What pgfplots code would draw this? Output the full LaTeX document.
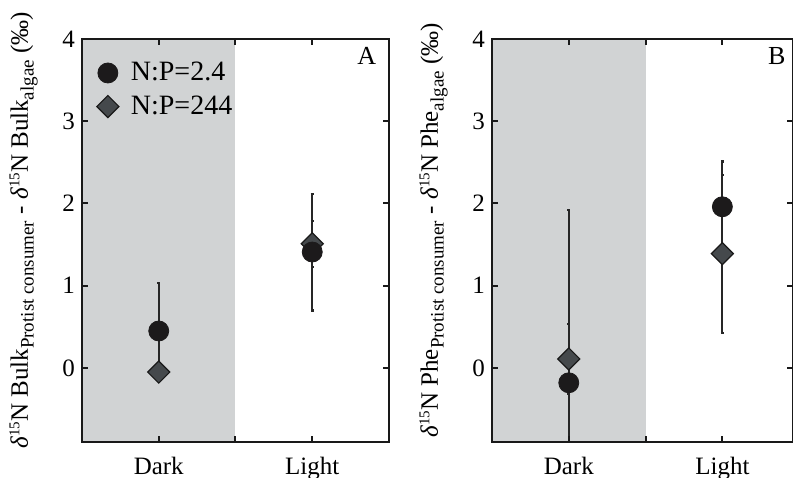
\documentclass[border=0pt]{standalone}
\usepackage{fontspec}
\setmainfont{Liberation Serif}
\usepackage{pgfplots}
\usepackage{pgfplotstable}
\pgfplotsset{compat=1.18}
\definecolor{shade}{HTML}{D1D3D4}
\definecolor{circ}{HTML}{1C1A1B}
\definecolor{diam}{HTML}{45494C}
\newcommand{\sub}[1]{\raisebox{-0.5ex}{\fontsize{9.5}{10}\selectfont #1}}
\newcommand{\dN}{\textit{δ}\raisebox{0.75ex}{\fontsize{7.5}{8}\selectfont 15}N}

\pgfplotstableread{
x y e
0 0.45 0.58
1 1.41 0.71
}\Acirc
\pgfplotstableread{
x y e
0 -0.05 0.08
1 1.51 0.28
}\Adiam
\pgfplotstableread{
x y e
0 -0.18 2.10
1 1.96 0.55
}\Bcirc
\pgfplotstableread{
x y e
0 0.11 0.42
1 1.39 0.96
}\Bdiam

\pgfplotsset{panel/.style={
 scale only axis, width=153.5pt, height=201.5pt,
 xmin=-0.5, xmax=1.5, ymin=-0.9, ymax=4,
 xtick={0,0.5,1}, xticklabels={Dark,,Light},
 ytick={0,1,2,3,4},
 tick align=inside, major tick length=3pt,
 axis line style={line width=1.2pt, black!90},
 every tick/.style={line width=1pt, black!90},
 axis on top,
 /pgf/number format/assume math mode=true,
 tick label style={font=\fontsize{12.5}{14}\selectfont},
 xticklabel style={yshift=-4pt},
 label style={font=\fontsize{12.5}{14}\selectfont},
 ylabel style={at={(ticklabel cs:0.525)}, anchor=near ticklabel, yshift=5.5pt},
 clip=true,
 },
 ebars/.style={
   error bars/y dir=both, error bars/y explicit,
   error bars/error bar style={line width=1.1pt, black!85},
   error bars/error mark options={rotate=90, mark size=0.8pt, line width=1.1pt, black!85}},
 circs/.style={only marks, mark=*, mark size=5pt, mark options={fill=circ, draw=circ}, ebars},
 diams/.style={only marks, mark=square*, mark size=3.9pt, mark options={fill=diam, draw=black!90, line width=0.6pt, rotate=45}, ebars},
}

\begin{document}
\begin{tikzpicture}
\begin{axis}[panel, name=A,
 ylabel={\dN\ Bulk\sub{Protist consumer} - \dN\ Bulk\sub{algae} (‰)},
 legend style={at={(axis cs:-0.445,3.82)}, anchor=north west, draw=none, fill=none,
   font=\fontsize{14}{16}\selectfont, row sep=2pt, column sep=4pt, cells={anchor=west}},
]
\addplot[fill=shade, draw=none, forget plot] coordinates {(-0.5,-0.9) (0.5,-0.9) (0.5,4) (-0.5,4)} -- cycle;
\addlegendimage{only marks, mark=*, mark size=5pt, mark options={fill=circ, draw=circ}}
\addlegendentry{N:P=2.4}
\addlegendimage{only marks, mark=square*, mark size=3.9pt, mark options={fill=diam, draw=black!90, line width=0.6pt, rotate=45}}
\addlegendentry{N:P=244}
\addplot[diams, forget plot] table[x=x, y=y, y error=e] {\Adiam};
\addplot[circs, forget plot] table[x=x, y=y, y error=e] {\Acirc};
\node[font=\fontsize{13}{14}\selectfont] at (axis cs:1.355,3.79) {A};
\end{axis}
\begin{axis}[panel, xshift=205pt, xmax=1.46, width=150.5pt,
 ylabel={\dN\ Phe\sub{Protist consumer} - \dN\ Phe\sub{algae} (‰)},
]
\addplot[fill=shade, draw=none, forget plot] coordinates {(-0.5,-0.9) (0.5,-0.9) (0.5,4) (-0.5,4)} -- cycle;
\addplot[circs, forget plot] table[x=x, y=y, y error=e] {\Bcirc};
\addplot[diams, forget plot] table[x=x, y=y, y error=e] {\Bdiam};
\node[font=\fontsize{13}{14}\selectfont] at (axis cs:1.355,3.79) {B};
\end{axis}
\pgfresetboundingbox
\path[use as bounding box] (-41pt,-17.5pt) rectangle (355.5pt,221pt);
\end{tikzpicture}
\end{document}
